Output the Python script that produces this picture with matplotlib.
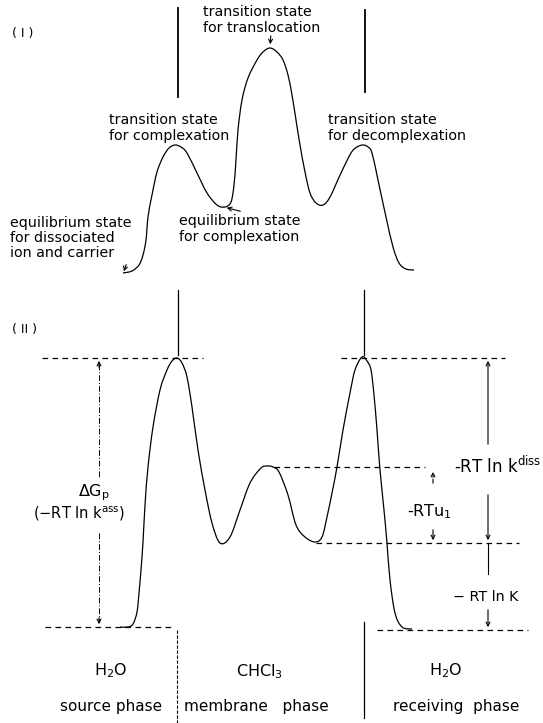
import matplotlib
matplotlib.use("Agg")
import matplotlib.pyplot as plt
from matplotlib.path import Path
from matplotlib.patches import PathPatch
import numpy as np

# picture coordinates (pixels, y grows downward)
curve_I_x = [123, 132, 139, 143, 146, 148, 152, 157, 163, 169, 175, 181, 187, 197, 207, 217,
             225, 231, 234, 236, 238, 242, 248, 257, 263, 270, 277, 283, 288, 292, 296, 300,
             305, 310, 316, 323, 330, 341, 351, 357, 363, 368, 372, 378, 386, 393, 399, 406,
             414]
curve_I_y = [273, 271, 265, 255, 240, 217, 195, 172, 157, 148, 145, 147, 153, 173, 193, 205,
             207, 202, 185, 160, 130, 100, 78, 60, 52, 48, 52, 60, 75, 95, 120, 145,
             172, 193, 203, 205, 197, 173, 153, 147, 145, 147, 153, 180, 217, 247, 263, 269,
             270]

curve_II_x = [120, 128, 133, 137, 139, 141, 143, 145, 148, 153, 160, 167, 172, 177, 182, 187,
              192, 198, 205, 212, 220, 230, 240, 250, 261, 268, 273, 279, 288, 296, 305, 315,
              322, 327, 332, 337, 343, 350, 355, 362, 367, 371, 374, 377, 380, 384, 387, 390,
              395, 402, 412]
curve_II_y = [627, 627, 624, 612, 593, 570, 542, 505, 467, 427, 390, 370, 361, 358, 363, 377,
              407, 450, 490, 523, 543, 537, 510, 483, 468, 466, 467, 472, 495, 525, 537, 542,
              537, 517, 493, 467, 430, 393, 370, 357, 361, 370, 395, 430, 470, 510, 543, 580,
              613, 627, 629]

# energy levels of part II
level_top = 358
level_mid_hi = 467
level_mid_lo = 543
level_src = 627
level_rcv = 630

TXT = dict(color="black", family="DejaVu Sans")


def smooth_path(xs, ys):
    # Catmull-Rom through the traced points, drawn as cubic Bezier segments
    p = np.column_stack([xs, ys]).astype(float)
    p = np.vstack([p[0], p, p[-1]])
    verts = [p[1]]
    codes = [Path.MOVETO]
    for i in range(1, len(p) - 2):
        c1 = p[i] + (p[i + 1] - p[i - 1]) / 6.0
        c2 = p[i + 1] - (p[i + 2] - p[i]) / 6.0
        verts += [c1, c2, p[i + 1]]
        codes += [Path.CURVE4] * 3
    return Path(verts, codes)


fig = plt.figure(figsize=(5.43, 7.23), dpi=100)
ax = fig.add_axes([0, 0, 1, 1])
ax.set_xlim(0, 543)
ax.set_ylim(723, 0)
ax.axis("off")

dash = (0, (4.5, 3.5))
lw = 0.9
arr = dict(arrowstyle="->", lw=0.8, mutation_scale=7)

# ---- part I ----
ax.add_patch(PathPatch(smooth_path(curve_I_x, curve_I_y), fill=False, lw=lw, ec="black"))
ax.text(12, 33, "( I )", fontsize=9, va="center", **TXT)
ax.plot([178, 178], [8, 97], color="black", lw=1.3)
ax.plot([365, 365], [10, 92], color="black", lw=1.3)
ax.plot([178, 178], [290, 355], color="black", lw=0.9)
ax.plot([364, 364], [290, 355], color="black", lw=0.9)

fs = 10.3
ax.text(203, 20, "transition state\nfor translocation", fontsize=fs, va="center",
        linespacing=1.1, **TXT)
ax.annotate("", xy=(270, 47), xytext=(271, 33), arrowprops=arr)
ax.text(109, 128, "transition state\nfor complexation", fontsize=fs, va="center",
        linespacing=1.1, **TXT)
ax.text(328, 128, "transition state\nfor decomplexation", fontsize=fs, va="center",
        linespacing=1.1, **TXT)
ax.text(10, 238, "equilibrium state\nfor dissociated\nion and carrier", fontsize=fs,
        va="center", linespacing=1.1, **TXT)
ax.annotate("", xy=(123, 274), xytext=(127, 262), arrowprops=arr)
ax.text(179, 229, "equilibrium state\nfor complexation", fontsize=fs, va="center",
        linespacing=1.1, **TXT)
ax.annotate("", xy=(224, 207), xytext=(243, 212), arrowprops=arr)

# ---- part II ----
ax.text(12, 330, "( II )", fontsize=9, va="center", **TXT)
ax.add_patch(PathPatch(smooth_path(curve_II_x, curve_II_y), fill=False, lw=lw, ec="black"))

ax.plot([42, 203], [level_top, level_top], color="black", lw=lw, ls=dash)
ax.plot([341, 505], [level_top, level_top], color="black", lw=lw, ls=dash)
ax.plot([274, 425], [level_mid_hi, level_mid_hi], color="black", lw=lw, ls=dash)
ax.plot([316, 519], [level_mid_lo, level_mid_lo], color="black", lw=lw, ls=dash)
ax.plot([45, 172], [level_src, level_src], color="black", lw=lw, ls=dash)
ax.plot([377, 528], [level_rcv, level_rcv], color="black", lw=lw, ls=dash)

# left double arrow: delta G_p
ax.plot([99, 99], [level_top + 6, 477], color="black", lw=0.7, ls=(0, (6, 2, 1, 2)))
ax.plot([99, 99], [533, level_src - 6], color="black", lw=0.7, ls=(0, (6, 2, 1, 2)))
ax.annotate("", xy=(99, level_top), xytext=(99, level_top + 12), arrowprops=arr)
ax.annotate("", xy=(99, level_src), xytext=(99, level_src - 12), arrowprops=arr)
ax.text(94, 493, r"$\Delta$G$_\mathregular{p}$", fontsize=11.5, ha="center", va="center", **TXT)
ax.text(79, 514, r"(−RT ln k$^\mathregular{ass}$)", fontsize=10.5, ha="center", va="center", **TXT)

# right side: -RT ln k^diss
ax.annotate("", xy=(488, level_top), xytext=(488, 447), arrowprops=arr)
ax.text(454, 466, r"-RT ln k$^\mathregular{diss}$", fontsize=12, va="center", **TXT)
ax.annotate("", xy=(488, level_mid_lo), xytext=(488, 492), arrowprops=arr)
ax.plot([488, 488], [level_mid_lo, 574], color="black", lw=0.8)
ax.text(453, 597, "− RT ln K", fontsize=10.3, va="center", **TXT)
ax.annotate("", xy=(488, level_rcv), xytext=(488, 607), arrowprops=arr)

# -RT u1
ax.annotate("", xy=(433, level_mid_hi + 2), xytext=(433, 486),
            arrowprops=dict(arr, ls="--"))
ax.text(407, 512, r"-RTu$_\mathregular{1}$", fontsize=11.5, va="center", **TXT)
ax.annotate("", xy=(433, level_mid_lo), xytext=(433, 527), arrowprops=arr)

# phase separators
ax.plot([177, 177], [630, 723], color="black", lw=0.8, ls=(0, (3, 1.5)))
ax.plot([364, 364], [622, 718], color="black", lw=0.9)

# phase labels
ax.text(111, 671, r"H$_\mathregular{2}$O", fontsize=11.5, ha="center", va="center", **TXT)
ax.text(260, 672, r"CHCl$_\mathregular{3}$", fontsize=11.5, ha="center", va="center", **TXT)
ax.text(446, 671, r"H$_\mathregular{2}$O", fontsize=11.5, ha="center", va="center", **TXT)
ax.text(111, 706, "source phase", fontsize=11, ha="center", va="center", **TXT)
ax.text(256, 706, "membrane   phase", fontsize=11, ha="center", va="center", **TXT)
ax.text(456, 706, "receiving  phase", fontsize=11, ha="center", va="center", **TXT)

fig.savefig("out.png", dpi=100)
